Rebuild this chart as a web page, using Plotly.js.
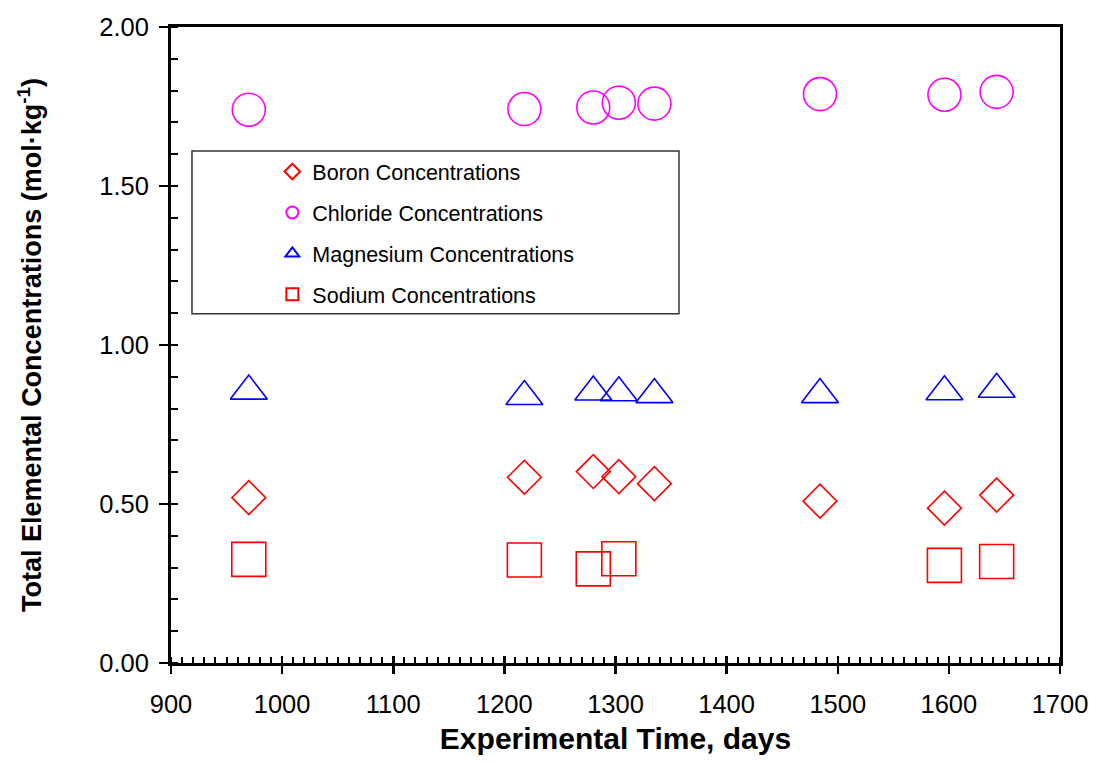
<!DOCTYPE html>
<html>
<head>
<meta charset="utf-8">
<script src="https://cdn.plot.ly/plotly-3.0.1.min.js"></script>
<style>html,body{margin:0;padding:0;background:#fff;}#chart{width:1096px;height:763px;}</style>
</head>
<body>
<div id="chart"></div>
<script>
// Data
var days = [970, 1218, 1280, 1303, 1335, 1484, 1596, 1643];
var boron = [0.520, 0.584, 0.602, 0.586, 0.564, 0.509, 0.487, 0.528];
var chloride = [1.740, 1.742, 1.747, 1.762, 1.759, 1.789, 1.787, 1.796];
var magnesium = [0.855, 0.838, 0.852, 0.850, 0.844, 0.844, 0.853, 0.861];
var sodiumDays = [970, 1218, 1280, 1303, 1596, 1643];
var sodium = [0.326, 0.324, 0.296, 0.328, 0.307, 0.319];

var seriesNames = ['Boron Concentrations', 'Chloride Concentrations', 'Magnesium Concentrations', 'Sodium Concentrations'];
var xTitle = 'Experimental Time, days';
var yTitle = 'Total Elemental Concentrations (mol·kg<sup>-1</sup>)';

var FONT = 'Liberation Sans, Arial, Helvetica, sans-serif';

function tr(x, y, name, symbol, size, color, grp) {
  return {
    type: 'scatter', mode: 'markers', x: x, y: y, name: name,
    legendgroup: grp,
    marker: {symbol: symbol, size: size, color: color, line: {color: color, width: 1.6}},
    hoverinfo: 'x+y'
  };
}

var traces = [
  tr(days, boron, seriesNames[0], 'diamond-open', 26, '#FF0000', 'a'),
  tr(days, chloride, seriesNames[1], 'circle-open', 33, '#FF00FF', 'b'),
  tr(days, magnesium, seriesNames[2], 'triangle-up-open', 32, '#0000FF', 'c'),
  tr(sodiumDays, sodium, seriesNames[3], 'square-open', 34, '#FF0000', 'd'),
  {type: 'scatter', mode: 'markers', x: [null], y: [null], xaxis: 'x2', yaxis: 'y2', showlegend: false, hoverinfo: 'skip'}
];

var layout = {
  width: 1096, height: 763,
  margin: {l: 171, r: 36, t: 27, b: 100},
  paper_bgcolor: '#fff', plot_bgcolor: '#fff',
  font: {family: FONT, color: '#000'},
  showlegend: true,
  legend: {
    x: 0.114, y: 0.805, xanchor: 'left', yanchor: 'top',
    bgcolor: 'rgba(0,0,0,0)', borderwidth: 0,
    font: {family: FONT, size: 21.5, color: '#000'},
    itemsizing: 'constant', traceorder: 'grouped', tracegroupgap: 10
  },
  xaxis: {
    range: [900, 1700], tick0: 900, dtick: 100,
    ticks: 'outside', ticklen: 8, tickwidth: 2.5, tickcolor: '#000',
    showline: true, linewidth: 3, linecolor: '#000', mirror: true,
    showgrid: false, zeroline: false, ticklabelstandoff: 8,
    tickfont: {family: FONT, size: 25.5, color: '#000'},
    minor: {dtick: 10, ticks: 'inside', ticklen: 6, tickwidth: 2, tickcolor: '#000', showgrid: false},
    title: {text: '<b>' + xTitle + '</b>', font: {family: FONT, size: 30, color: '#000'}, standoff: 12}
  },
  yaxis: {
    range: [0, 2], tick0: 0, dtick: 0.5, tickformat: '.2f',
    ticks: 'outside', ticklen: 9, tickwidth: 2.5, tickcolor: '#000',
    showline: true, linewidth: 3, linecolor: '#000', mirror: true,
    showgrid: false, zeroline: false, ticklabelstandoff: 5,
    tickfont: {family: FONT, size: 25.5, color: '#000'},
    minor: {dtick: 0.1, ticks: 'inside', ticklen: 7, tickwidth: 2, tickcolor: '#000', showgrid: false},
    title: {text: '<b>' + yTitle + '</b>', font: {family: FONT, size: 27, color: '#000'}, standoff: 50}
  },
  xaxis2: {
    overlaying: 'x', anchor: 'y', range: [900, 1700], tick0: 900, dtick: 100,
    ticks: 'inside', ticklen: 7, tickwidth: 2.5, tickcolor: '#000',
    showticklabels: false, showline: false, showgrid: false, zeroline: false, side: 'bottom'
  },
  yaxis2: {
    overlaying: 'y', anchor: 'x', range: [0, 2], tick0: 0, dtick: 0.5,
    ticks: 'inside', ticklen: 7, tickwidth: 2.5, tickcolor: '#000',
    showticklabels: false, showline: false, showgrid: false, zeroline: false, side: 'left'
  },
  shapes: [{
    type: 'rect', xref: 'paper', yref: 'paper',
    x0: 0.0236, x1: 0.5714, y0: 0.549, y1: 0.805,
    line: {color: '#333', width: 1.5}, fillcolor: 'rgba(0,0,0,0)', layer: 'above'
  }]
};

Plotly.newPlot('chart', traces, layout, {displayModeBar: false, staticPlot: true});
</script>
</body>
</html>
